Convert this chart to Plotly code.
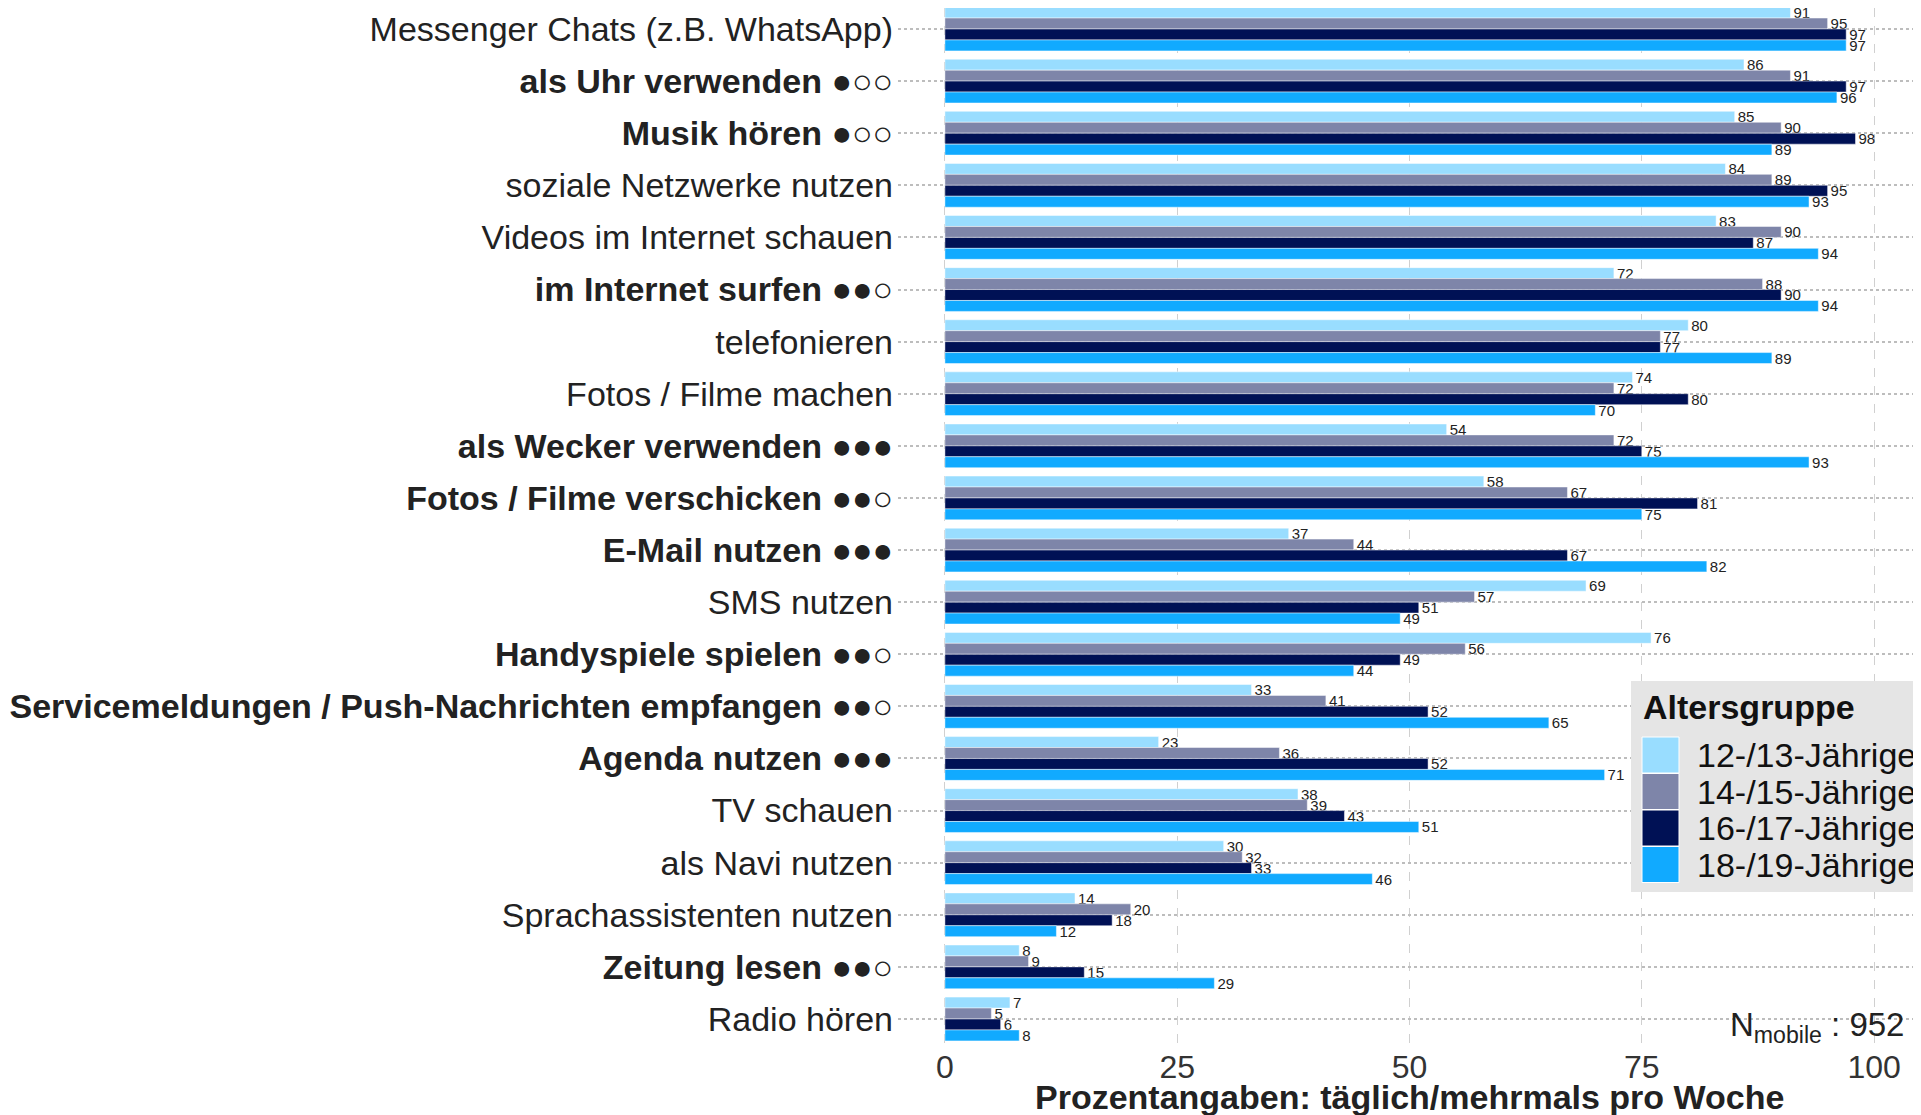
import plotly.graph_objects as go

categories = [
    "Messenger Chats (z.B. WhatsApp)", "als Uhr verwenden", "Musik hören",
    "soziale Netzwerke nutzen", "Videos im Internet schauen", "im Internet surfen",
    "telefonieren", "Fotos / Filme machen", "als Wecker verwenden",
    "Fotos / Filme verschicken", "E-Mail nutzen", "SMS nutzen",
    "Handyspiele spielen", "Servicemeldungen / Push-Nachrichten empfangen",
    "Agenda nutzen", "TV schauen", "als Navi nutzen", "Sprachassistenten nutzen",
    "Zeitung lesen", "Radio hören",
]
ratings = ["", "●○○", "●○○", "", "", "●●○", "", "", "●●●", "●●○",
           "●●●", "", "●●○", "●●○", "●●●", "", "", "", "●●○", ""]

groups = ["12-/13-Jährige", "14-/15-Jährige", "16-/17-Jährige", "18-/19-Jährige"]
v_12_13 = [91, 86, 85, 84, 83, 72, 80, 74, 54, 58, 37, 69, 76, 33, 23, 38, 30, 14, 8, 7]
v_14_15 = [95, 91, 90, 89, 90, 88, 77, 72, 72, 67, 44, 57, 56, 41, 36, 39, 32, 20, 9, 5]
v_16_17 = [97, 97, 98, 95, 87, 90, 77, 80, 75, 81, 67, 51, 49, 52, 52, 43, 33, 18, 15, 6]
v_18_19 = [97, 96, 89, 93, 94, 94, 89, 70, 93, 75, 82, 49, 44, 65, 71, 51, 46, 12, 29, 8]
series = [v_12_13, v_14_15, v_16_17, v_18_19]
colors = ["#99DDFF", "#7E85A9", "#001155", "#11AAFF"]

x_ticks = [0, 25, 50, 75, 100]
x_title = "Prozentangaben: täglich/mehrmals pro Woche"
legend_title = "Altersgruppe"
n_text = "N<sub>mobile</sub> : 952"

# page body has an 8px margin -> figure is placed at (8, 8) in the window
OFF = 8
W, H = 1921 - OFF, 1115 - OFF
ML, MR, MT, MB = 890, 0, 0, 65
PW, PH = W - ML - MR, H - MT - MB
TXT = "#222222"
FONT = "Liberation Sans, Arial, sans-serif"


def px(xw):
    return (xw - OFF - ML) / PW


def py(yw):
    return 1 - (yw - OFF - MT) / PH


ticktext = []
for c, r in zip(categories, ratings):
    if r:
        ticktext.append(f"<b>{c}</b> <span style='font-size:34px'>{r}</span>")
    else:
        ticktext.append(c)

fig = go.Figure()
for name, vals, col in zip(groups, series, colors):
    fig.add_trace(go.Bar(
        y=categories, x=vals, orientation="h", name=name,
        marker=dict(color=col, line=dict(color="rgba(255,255,255,0.8)", width=0.6)),
        text=[str(v) for v in vals], textposition="outside",
        textfont=dict(size=15, color=TXT, family=FONT),
        constraintext="none", cliponaxis=False, showlegend=False,
    ))

shapes = []
annotations = []

# manual legend
shapes.append(dict(type="rect", xref="paper", yref="paper",
                   x0=px(1631), x1=px(1921), y0=py(892), y1=py(681),
                   fillcolor="#E5E5E5", line=dict(width=0), layer="above"))
annotations.append(dict(xref="paper", yref="paper", x=px(1641), y=py(707),
                        text=f"<b>{legend_title}</b>", showarrow=False,
                        xanchor="left", yanchor="middle",
                        font=dict(size=34, color="#111111", family=FONT)))
for i, (name, col) in enumerate(zip(groups, colors)):
    top = 737 + i * 36.5
    shapes.append(dict(type="rect", xref="paper", yref="paper",
                       x0=px(1642), x1=px(1679), y0=py(top + 36), y1=py(top),
                       fillcolor=col, line=dict(color="white", width=1), layer="above"))
    annotations.append(dict(xref="paper", yref="paper", x=px(1695), y=py(top + 18),
                            text=name, showarrow=False, xanchor="left", yanchor="middle",
                            font=dict(size=34, color="#111111", family=FONT)))

annotations.append(dict(xref="paper", yref="paper", x=0.5, y=py(1097),
                        text=f"<b>{x_title}</b>", showarrow=False,
                        xanchor="center", yanchor="middle",
                        font=dict(size=34, color=TXT, family=FONT)))
annotations.append(dict(xref="paper", yref="paper", x=px(1906), y=py(1027),
                        text=n_text, showarrow=False, xanchor="right", yanchor="middle",
                        font=dict(size=33, color=TXT, family=FONT)))

fig.update_layout(
    width=W, height=H, barmode="group", bargap=0.16, bargroupgap=0,
    margin=dict(l=ML, r=MR, t=MT, b=MB, pad=0),
    plot_bgcolor="white", paper_bgcolor="white",
    font=dict(family=FONT, color=TXT),
    shapes=shapes, annotations=annotations, showlegend=False,
    xaxis=dict(range=[-5.05, 105.05], tickvals=x_ticks, ticktext=[str(t) for t in x_ticks],
               showgrid=True, gridcolor="#D0D0D0", griddash="dash", gridwidth=1.3,
               zeroline=False, showline=False, ticks="", ticklabelstandoff=-5,
               tickfont=dict(size=32, color="#333333")),
    yaxis=dict(categoryorder="array", categoryarray=categories,
               range=[19.595, -0.403], tickvals=categories, ticktext=ticktext,
               showgrid=True, gridcolor="#BDBDBD", griddash="dot", gridwidth=1.5,
               zeroline=False, showline=False, ticks="", ticklabelstandoff=4,
               tickfont=dict(size=34, color=TXT)),
)

fig.write_html("out.html")
